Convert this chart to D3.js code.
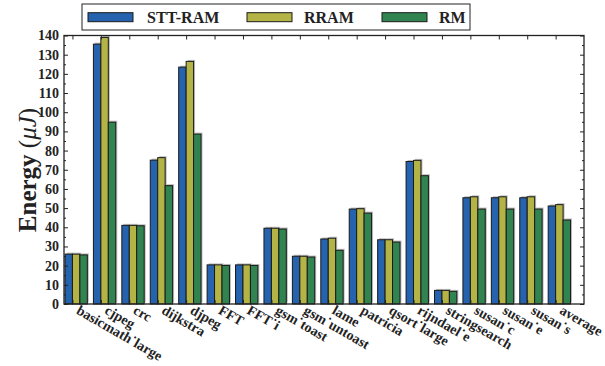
<!DOCTYPE html>
<html><head><meta charset="utf-8">
<script src="https://cdn.jsdelivr.net/npm/d3@7"></script>
<style>body{margin:0;background:#fff}svg{display:block}</style>
</head><body>
<script>
const categories = ["basicmath˙large","cjpeg","crc","dijkstra","djpeg","FFT","FFT˙i","gsm˙toast","gsm˙untoast","lame","patricia","qsort˙large","rijndael˙e","stringsearch","susan˙c","susan˙e","susan˙s","average"];
const sttram = [26,135.5,41,75,123.5,20.4,20.4,39.5,24.9,33.9,49.5,33.5,74.3,7.1,55.4,55.4,55.4,51.1];
const rram   = [26,139,41,76.3,126.5,20.4,20.4,39.5,24.9,34.3,49.7,33.5,74.9,7.1,55.9,55.9,55.9,51.8];
const rm     = [25.6,94.8,40.8,61.7,88.6,20.1,20.1,39.1,24.5,28,47.4,32.3,66.9,6.6,49.5,49.5,49.5,43.8];
const seriesNames = ["STT-RAM","RRAM","RM"];
const seriesColors = ["#2563ae","#b4b446","#318450"];
const yTicks = d3.range(0,141,10);
const yMinor = d3.range(5,141,10);

const W=605,H=366;
const svg=d3.select("body").append("svg").attr("width",W).attr("height",H);
const font="'Liberation Serif', 'Times New Roman', serif";
const x=d3.scaleLinear().domain([-0.035,18.26]).range([64,584]);
const y=d3.scaleLinear().domain([0,140]).range([304,35.5]);
const bw=0.262;
const data=[sttram,rram,rm];

const g=svg.append("g");
// shadows
data.forEach((s,k)=>{
  g.selectAll(null).data(s).enter().append("rect")
   .attr("x",(d,i)=>x(i+k*bw)+1.5).attr("y",d=>y(d)-1.5)
   .attr("width",x(bw)-x(0)).attr("height",d=>y(0)-y(d))
   .attr("fill","#bdbdbd");
});
data.forEach((s,k)=>{
  g.selectAll(null).data(s).enter().append("rect")
   .attr("x",(d,i)=>x(i+k*bw)).attr("y",d=>y(d))
   .attr("width",x(bw)-x(0)).attr("height",d=>y(0)-y(d))
   .attr("fill",seriesColors[k]).attr("stroke","#1a1a1a").attr("stroke-width",1);
});

// frame
svg.append("rect").attr("x",64).attr("y",35.5).attr("width",520).attr("height",268.5)
  .attr("fill","none").attr("stroke","#222").attr("stroke-width",1.3);

// y ticks
const yAxisL=d3.axisLeft(y).tickValues(yTicks).tickSize(-4).tickPadding(5).tickFormat(d3.format("d"));
const ga=svg.append("g").attr("transform","translate(64,0)").call(yAxisL);
ga.select(".domain").remove();
ga.selectAll("text").attr("font-family",font).attr("font-weight","bold").attr("font-size",14).attr("fill","#222");
const yAxisR=d3.axisRight(y).tickValues(yTicks).tickSize(-4).tickFormat("");
const gr=svg.append("g").attr("transform","translate(584,0)").call(yAxisR);
gr.select(".domain").remove();
[[d3.axisLeft,64],[d3.axisRight,584]].forEach(([ax,px])=>{
  const gm=svg.append("g").attr("transform",`translate(${px},0)`).call(ax(y).tickValues(yMinor).tickSize(-2).tickFormat(""));
  gm.select(".domain").remove();
});
// x ticks
const idx=d3.range(categories.length);
const gxb=svg.append("g").attr("transform","translate(0,304)")
  .call(d3.axisBottom(x).tickValues(idx.map(i=>i+bw)).tickSize(-4).tickFormat(""));
gxb.select(".domain").remove();
const gxt=svg.append("g").attr("transform","translate(0,35.5)")
  .call(d3.axisTop(x).tickValues(idx.map(i=>i+bw)).tickSize(-4).tickFormat(""));
gxt.select(".domain").remove();
svg.selectAll(".tick line").attr("stroke","#222");

// x labels
svg.append("g").selectAll("text").data(categories).enter().append("text")
  .attr("transform",(d,i)=>`translate(${x(i+bw)+3},${313}) rotate(30)`)
  .attr("font-family",font).attr("font-weight","bold").attr("font-size",14).attr("fill","#222")
  .text(d=>d);

// y label
const yl=svg.append("text").attr("transform","translate(36,170) rotate(-90)")
  .attr("text-anchor","middle").attr("font-family",font).attr("font-size",25).attr("fill","#222");
yl.append("tspan").attr("font-weight","bold").text("Energy ");
yl.append("tspan").text("(");
yl.append("tspan").attr("font-style","italic").text("μJ");
yl.append("tspan").text(")");

// legend
const lg=svg.append("g");
lg.append("rect").attr("x",82).attr("y",4).attr("width",388).attr("height",26)
  .attr("fill","#fff").attr("stroke","#222").attr("stroke-width",1);
const lx=[88,247,382], tx=[147,304,439];
seriesNames.forEach((n,k)=>{
  lg.append("rect").attr("x",lx[k]).attr("y",12.7).attr("width",45).attr("height",9)
    .attr("fill",seriesColors[k]).attr("stroke","#1a1a1a").attr("stroke-width",1);
  lg.append("text").attr("x",tx[k]).attr("y",23).attr("font-family",font).attr("font-weight","bold")
    .attr("font-size",16).attr("fill","#222").text(n);
});
</script>
</body></html>
